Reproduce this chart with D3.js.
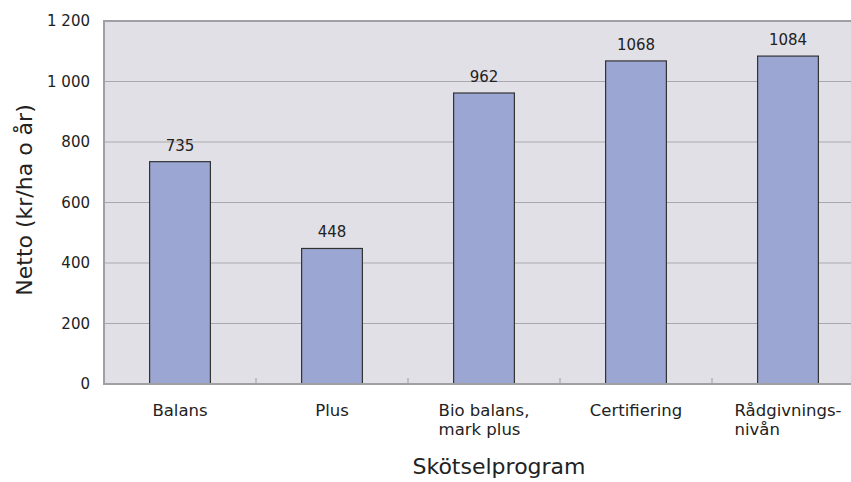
<!DOCTYPE html>
<html>
<head>
<meta charset="utf-8">
<script src="https://cdn.jsdelivr.net/npm/d3@7"></script>
<style>
  body { margin: 0; background: #fff; }
  text { font-family: "DejaVu Sans", sans-serif; fill: #222; }
</style>
</head>
<body>
<div id="chart"></div>
<script>
// data
const categories = ["Balans", "Plus", "Bio balans,\nmark plus", "Certifiering", "Rådgivnings-\nnivån"];
const values = [735, 448, 962, 1068, 1084];
const yTicks = [0, 200, 400, 600, 800, 1000, 1200];

const width = 851, height = 482;
// plot area runs past the right edge of the picture
const margin = { top: 21, left: 104, plotRight: 864, bottom: 384 };

const svg = d3.select("#chart").append("svg")
  .attr("width", width)
  .attr("height", height);

const x = d3.scaleBand()
  .domain(categories)
  .range([margin.left, margin.plotRight])
  .paddingInner(0.6)
  .paddingOuter(0.3);

const y = d3.scaleLinear()
  .domain([0, 1200])
  .range([margin.bottom, margin.top]);

// plot background
svg.append("rect")
  .attr("x", margin.left)
  .attr("y", margin.top)
  .attr("width", margin.plotRight - margin.left)
  .attr("height", margin.bottom - margin.top)
  .attr("fill", "#e1e0e6");

// gridlines
svg.append("g")
  .selectAll("line")
  .data(yTicks.slice(1, -1))
  .join("line")
  .attr("x1", margin.left)
  .attr("x2", margin.plotRight)
  .attr("y1", d => y(d))
  .attr("y2", d => y(d))
  .attr("stroke", "#a9a9ad")
  .attr("stroke-width", 1.2);

// y axis labels
const yAxis = d3.axisLeft(y)
  .tickValues(yTicks)
  .tickSize(0)
  .tickPadding(14)
  .tickFormat(d => d3.format(",")(d).replace(",", " "));

svg.append("g")
  .attr("transform", `translate(${margin.left},0)`)
  .call(yAxis)
  .call(g => g.select(".domain").remove())
  .selectAll("text")
  .attr("font-size", 15)
  .attr("font-family", "DejaVu Sans")
  .attr("fill", "#222");

// small ticks between categories
const step = x.step();
svg.append("g")
  .selectAll("line")
  .data(categories.slice(1))
  .join("line")
  .attr("x1", d => x(d) + x.bandwidth() / 2 - step / 2)
  .attr("x2", d => x(d) + x.bandwidth() / 2 - step / 2)
  .attr("y1", margin.bottom)
  .attr("y2", margin.bottom - 6)
  .attr("stroke", "#a0a0a4")
  .attr("stroke-width", 1);

// bars
svg.append("g")
  .selectAll("rect")
  .data(categories)
  .join("rect")
  .attr("x", d => x(d))
  .attr("width", x.bandwidth())
  .attr("y", (d, i) => y(values[i]))
  .attr("height", (d, i) => y(0) - y(values[i]))
  .attr("fill", "#9ba6d3")
  .attr("stroke", "#333")
  .attr("stroke-width", 1.2);

// value labels
svg.append("g")
  .selectAll("text")
  .data(categories)
  .join("text")
  .attr("x", d => x(d) + x.bandwidth() / 2)
  .attr("y", (d, i) => y(values[i]) - 11)
  .attr("text-anchor", "middle")
  .attr("font-size", 15)
  .text((d, i) => values[i]);

// frame
svg.append("path")
  .attr("d", `M${margin.plotRight},${margin.top}H${margin.left}V${margin.bottom}H${margin.plotRight}`)
  .attr("fill", "none")
  .attr("stroke", "#a0a0a4")
  .attr("stroke-width", 2);

// category labels: lines left aligned, block centred on the bar
const catG = svg.append("g");
categories.forEach(c => {
  const lines = c.split("\n");
  const t = catG.append("text")
    .attr("font-size", 16.5)
    .attr("y", 416);
  lines.forEach((l, j) => {
    t.append("tspan").attr("dy", j === 0 ? 0 : 19).text(l);
  });
  const w = d3.max(t.selectAll("tspan").nodes(), n => n.getComputedTextLength());
  const left = x(c) + x.bandwidth() / 2 - w / 2;
  t.selectAll("tspan").attr("x", left);
});

// axis titles
svg.append("text")
  .attr("x", 499)
  .attr("y", 474)
  .attr("text-anchor", "middle")
  .attr("font-size", 22)
  .text("Skötselprogram");

svg.append("text")
  .attr("transform", "translate(32,200) rotate(-90)")
  .attr("text-anchor", "middle")
  .attr("font-size", 22)
  .text("Netto (kr/ha o år)");
</script>
</body>
</html>
